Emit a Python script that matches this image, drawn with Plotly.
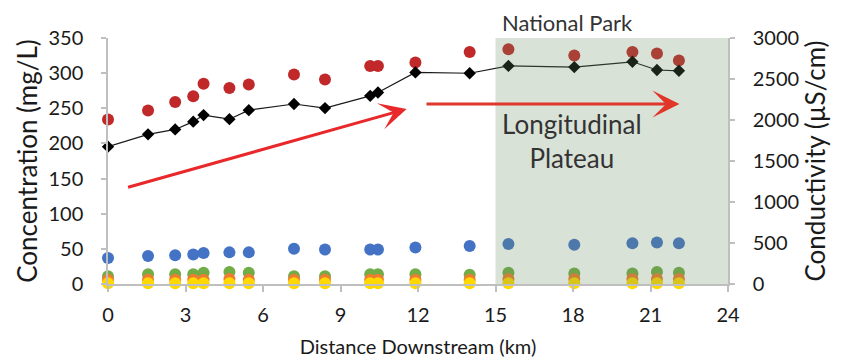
import plotly.graph_objects as go

# ---- data ----
distance_km = [0, 1.55, 2.6, 3.3, 3.7, 4.7, 5.45, 7.2, 8.4, 10.15, 10.45, 11.9, 14.0, 15.5, 18.05, 20.3, 21.25, 22.1]
conductivity = [1675, 1825, 1885, 1980, 2060, 2010, 2120, 2195, 2145, 2295, 2335, 2580, 2570, 2660, 2645, 2710, 2610, 2600]
red_conc = [234, 247, 259, 267, 285, 279, 284, 298, 291, 310, 310, 315, 330, 334, 325, 330, 328, 318]
blue_conc = [37, 40, 41, 42, 44, 45, 45, 50, 49, 49, 49, 52, 54, 57, 56, 58, 59, 58]
green_conc = [11, 14, 14, 14, 16, 17, 16, 11, 11, 14, 14, 14, 13, 16, 15, 15, 17, 16]
orange_conc = [6, 6, 6, 6, 6, 7, 6, 6, 6, 6, 6, 6, 6, 7, 7, 7, 7, 7]
yellow_conc = [1, 1, 1, 1, 1, 1, 1, 1, 1, 1, 1, 1, 1, 1, 1, 1, 1, 1]

x_ticks = [0, 3, 6, 9, 12, 15, 18, 21, 24]
park_start, park_end = 15, 24

FONT = "Lato"
AX = "#BFBFBF"
TXT = "#1a1a1a"

fig = go.Figure()

def dots(y, color, name):
    fig.add_trace(go.Scatter(x=distance_km, y=y, mode="markers", name=name,
                             marker=dict(symbol="circle", size=12, color=color),
                             cliponaxis=False, showlegend=False))

dots(blue_conc, "#4472C4", "Blue series")
dots(green_conc, "#70AD47", "Green series")
dots(orange_conc, "#ED7D31", "Orange series")
dots(yellow_conc, "#FFD800", "Yellow series")
dots(red_conc, "#C0282A", "Red series")

fig.add_trace(go.Scatter(x=distance_km, y=conductivity, mode="lines+markers", name="Conductivity",
                         yaxis="y2", line=dict(color="#1a1a1a", width=1.2),
                         marker=dict(symbol="diamond", size=9.5, color="black"),
                         cliponaxis=False, showlegend=False))

# National Park shading (drawn over the points, translucent)
fig.add_shape(type="rect", xref="x", yref="paper", x0=park_start, x1=park_end, y0=0, y1=1,
              fillcolor="rgba(105,140,95,0.25)", line=dict(width=0), layer="above")

# arrows
fig.add_annotation(x=11.56, y=249, ax=0.72, ay=137, xref="x", yref="y", axref="x", ayref="y",
                   text="", showarrow=True, arrowhead=3, arrowwidth=3, arrowsize=1.5,
                   arrowcolor="#E8282A")
fig.add_annotation(x=22.12, y=256, ax=12.27, ay=256, xref="x", yref="y", axref="x", ayref="y",
                   text="", showarrow=True, arrowhead=3, arrowwidth=3, arrowsize=1.5,
                   arrowcolor="#E0372A")

fig.add_annotation(x=17.8, y=1.065, xref="x", yref="paper", text="National Park", showarrow=False,
                   font=dict(family=FONT, size=22, color="#333333"), yanchor="middle")
fig.add_annotation(x=17.95, y=203, xref="x", yref="y", text="Longitudinal<br>Plateau", showarrow=False,
                   font=dict(family=FONT, size=26, color="#333333"), yanchor="middle")

fig.update_layout(
    width=843, height=360,
    margin=dict(l=108, r=115, t=38, b=76, autoexpand=False),
    paper_bgcolor="white", plot_bgcolor="white",
    font=dict(family=FONT, color=TXT),
    xaxis=dict(range=[0, 24], tickvals=x_ticks, ticktext=[str(v) for v in x_ticks],
               automargin=False,
               showgrid=False, zeroline=False, showline=True, linecolor=AX, linewidth=1.5,
               ticks="outside", ticklen=6, tickcolor=AX, tickwidth=1.5,
               tickfont=dict(size=20, color=TXT), ticklabelstandoff=6,
               title=dict(text="Distance Downstream (km)", font=dict(size=20, color=TXT), standoff=15)),
    yaxis=dict(range=[0, 350], tickvals=[0, 50, 100, 150, 200, 250, 300, 350],
               automargin=False,
               showgrid=False, zeroline=False, showline=True, linecolor=AX, linewidth=1.5,
               ticks="outside", ticklen=5, tickcolor=AX, tickwidth=1.5,
               tickfont=dict(size=20, color=TXT), ticklabelstandoff=14,
               title=dict(text="Concentration (mg/L)", font=dict(size=26, color=TXT), standoff=3)),
    yaxis2=dict(range=[0, 3000], tickvals=[0, 500, 1000, 1500, 2000, 2500, 3000],
                overlaying="y", side="right", anchor="x", automargin=False,
                showgrid=False, zeroline=False, showline=True, linecolor=AX, linewidth=1.5,
                ticks="outside", ticklen=5, tickcolor=AX, tickwidth=1.5,
                tickfont=dict(size=20, color=TXT), ticklabelstandoff=14,
                title=dict(text="Conductivity (µS/cm)", font=dict(size=26, color=TXT), standoff=3)),
)

fig.write_html("out.html")
